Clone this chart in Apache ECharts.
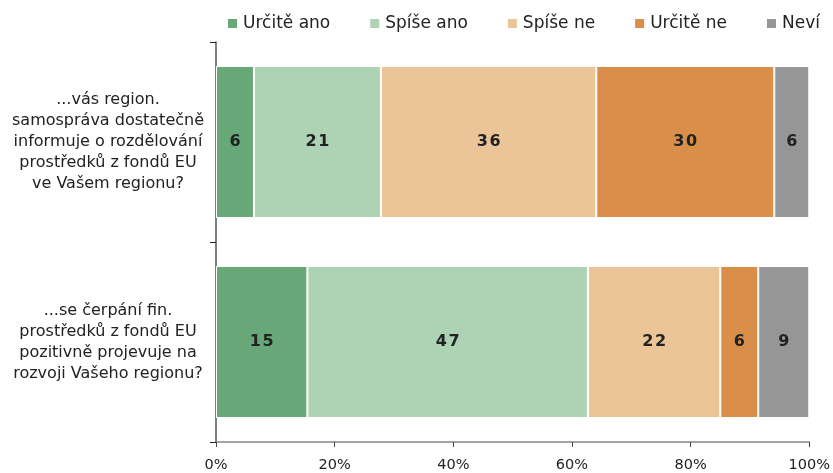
<!DOCTYPE html>
<html><head><meta charset="utf-8">
<script src="https://cdn.jsdelivr.net/npm/echarts@6/dist/echarts.min.js"></script>
<style>html,body{margin:0;padding:0;background:#fff}#c{width:833px;height:473px}</style>
</head><body><div id="c"></div>
<script>
const categories = ["...vás region.\nsamospráva dostatečně\ninformuje o rozdělování\nprostředků z fondů EU\nve Vašem regionu?", "...se čerpání fin.\nprostředků z fondů EU\npozitivně projevuje na\nrozvoji Vašeho regionu?"];
const seriesNames = ["Určitě ano", "Spíše ano", "Spíše ne", "Určitě ne", "Neví"];
const urciteAno = [6.4, 15.4];
const spiseAno = [21.4, 47.3];
const spiseNe = [36.3, 22.3];
const urciteNe = [30.0, 6.4];
const nevi = [5.9, 8.6];
const labelsShown = [[6, 15], [21, 47], [36, 22], [30, 6], [6, 9]];
const xTicks = [0, 20, 40, 60, 80, 100];
const colors = ["#68A878", "#AED3B4", "#EBC598", "#D98F4A", "#969696"];
const allData = [urciteAno, spiseAno, spiseNe, urciteNe, nevi];

const chart = echarts.init(document.getElementById('c'), null, {renderer: 'canvas'});
const font = "'DejaVu Sans', Verdana, sans-serif";
chart.setOption({
  animation: false,
  textStyle: {fontFamily: font},
  legend: {
    top: 10, left: 221, itemWidth: 11, itemHeight: 11, itemGap: 38,
    icon: 'rect',
    textStyle: {fontSize: 17, color: '#222', fontFamily: font},
    data: seriesNames
  },
  grid: {left: 216, right: 20, top: 42, bottom: 30},
  xAxis: {
    type: 'value', min: 0, max: 100, interval: 20,
    axisLine: {show: true, lineStyle: {color: '#888', width: 1.5}},
    axisTick: {show: true, length: 5, lineStyle: {color: '#444'}},
    splitLine: {show: false},
    axisLabel: {formatter: v => xTicks.includes(v) ? v + '%' : '', fontSize: 14.5, color: '#222', margin: 16}
  },
  yAxis: {
    type: 'category', inverse: true, data: categories,
    axisLine: {show: true, lineStyle: {color: '#555', width: 1.5}},
    axisTick: {show: true, length: 6, lineStyle: {color: '#222'}},
    axisLabel: {align: 'center', margin: 108, fontSize: 16, lineHeight: 21, color: '#222'}
  },
  series: allData.map((d, i) => ({
    name: seriesNames[i], type: 'bar', stack: 'a', barWidth: '76%',
    data: d,
    itemStyle: {color: colors[i], borderColor: '#fff', borderWidth: 1},
    label: {
      show: true, position: 'inside', fontSize: 16, fontWeight: 'bold', color: '#222',
      fontFamily: font,
      formatter: p => String(labelsShown[i][p.dataIndex]).split('').join('\u200A')
    }
  }))
});
</script></body></html>
